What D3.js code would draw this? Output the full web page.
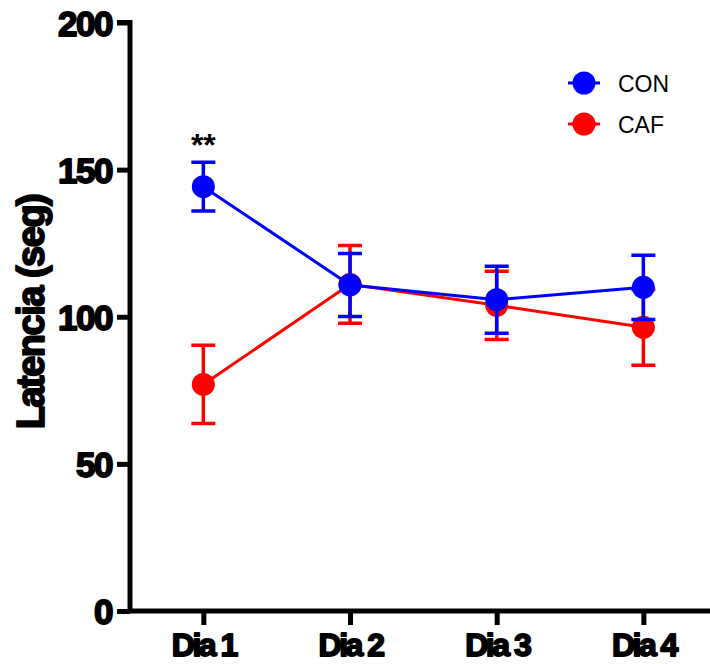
<!DOCTYPE html>
<html>
<head>
<meta charset="utf-8">
<script src="https://cdn.jsdelivr.net/npm/d3@7"></script>
<style>
  html, body { margin: 0; padding: 0; background: #fff; }
  svg { display: block; }
  .heavy { font-family: "Liberation Sans", Arial, sans-serif; font-weight: bold; fill: #000; stroke: #000; stroke-width: 1.8px; stroke-linejoin: round; }
</style>
</head>
<body>
<svg id="chart" width="710" height="664"></svg>
<script>
// Latency per day, mean ± SEM
const days = ["Dia 1", "Dia 2", "Dia 3", "Dia 4"];
const conMean = [144.2, 110.8, 105.8, 110.0];
const conErr  = [8.3, 10.7, 11.4, 10.9];
const cafMean = [77.0, 111.0, 103.9, 96.4];
const cafErr  = [13.3, 13.2, 11.6, 12.9];
const yTicks = [0, 50, 100, 150, 200];

const series = [
  { name: "CAF", color: "#ff0000", mean: cafMean, err: cafErr },
  { name: "CON", color: "#0000ff", mean: conMean, err: conErr }
];

const svg = d3.select("#chart");
const plotLeft = 130, plotRight = 716.7, plotTop = 22.5, plotBottom = 611;

const x = d3.scalePoint().domain(days).range([plotLeft, plotRight]).padding(0.5);
const y = d3.scaleLinear().domain([0, 200]).range([plotBottom, plotTop]);

// Axes
const yAxis = svg.append("g").attr("transform", `translate(${plotLeft},0)`)
  .call(d3.axisLeft(y).tickValues(yTicks).tickSize(13).tickPadding(5));
const xAxis = svg.append("g").attr("transform", `translate(0,${plotBottom})`)
  .call(d3.axisBottom(x).tickSize(14).tickPadding(9));

[yAxis, xAxis].forEach(g => {
  g.select(".domain").attr("stroke", "#000").attr("stroke-width", 5);
  g.selectAll(".tick line").attr("stroke", "#000").attr("stroke-width", 5);
  g.selectAll(".tick text").attr("class", "heavy");
});
yAxis.select(".domain").attr("d", `M-13,${plotTop}H0V${plotBottom}`);
xAxis.select(".domain").attr("d", `M${plotLeft},0H${plotRight}`);
yAxis.selectAll(".tick text").attr("font-size", 35).attr("letter-spacing", -1.5).attr("dy", "0.36em");
xAxis.selectAll(".tick text").attr("font-size", 32).attr("letter-spacing", -2.5).attr("dy", "0.7em");

// Y axis title
svg.append("text")
  .attr("class", "heavy")
  .attr("font-size", 38)
  .attr("letter-spacing", -1.5)
  .attr("text-anchor", "middle")
  .attr("transform", `translate(44,312) rotate(-90)`)
  .text("Latencia (seg)");

// Data series
const line = d3.line().x((d, i) => x(days[i])).y(d => y(d));
const capW = 12;

series.forEach(s => {
  const g = svg.append("g");
  g.append("path")
    .attr("d", line(s.mean))
    .attr("fill", "none")
    .attr("stroke", s.color)
    .attr("stroke-width", 3);
  days.forEach((day, i) => {
    const cx = x(day), hi = y(s.mean[i] + s.err[i]), lo = y(s.mean[i] - s.err[i]);
    g.append("path")
      .attr("d", `M${cx},${hi}V${lo}M${cx - capW},${hi}H${cx + capW}M${cx - capW},${lo}H${cx + capW}`)
      .attr("fill", "none")
      .attr("stroke", s.color)
      .attr("stroke-width", 3.5);
    g.append("circle")
      .attr("cx", cx)
      .attr("cy", y(s.mean[i]))
      .attr("r", 11.5)
      .attr("fill", s.color);
  });
});

// Significance marker
svg.append("text")
  .attr("x", x("Dia 1"))
  .attr("y", 156)
  .attr("text-anchor", "middle")
  .attr("font-family", "Liberation Sans, Arial, sans-serif")
  .attr("font-weight", "bold")
  .attr("font-size", 32)
  .attr("fill", "#000")
  .text("**");

// Legend
const legend = [series[1], series[0]];
legend.forEach((s, i) => {
  const ly = 83 + i * 41;
  svg.append("line")
    .attr("x1", 568).attr("x2", 600).attr("y1", ly).attr("y2", ly)
    .attr("stroke", s.color).attr("stroke-width", 3);
  svg.append("circle").attr("cx", 584).attr("cy", ly).attr("r", 11.5).attr("fill", s.color);
  svg.append("text")
    .attr("x", 618).attr("y", ly + 9)
    .attr("font-family", "Liberation Sans, Arial, sans-serif")
    .attr("font-size", 23)
    .attr("fill", "#000")
    .text(s.name);
});
</script>
</body>
</html>
